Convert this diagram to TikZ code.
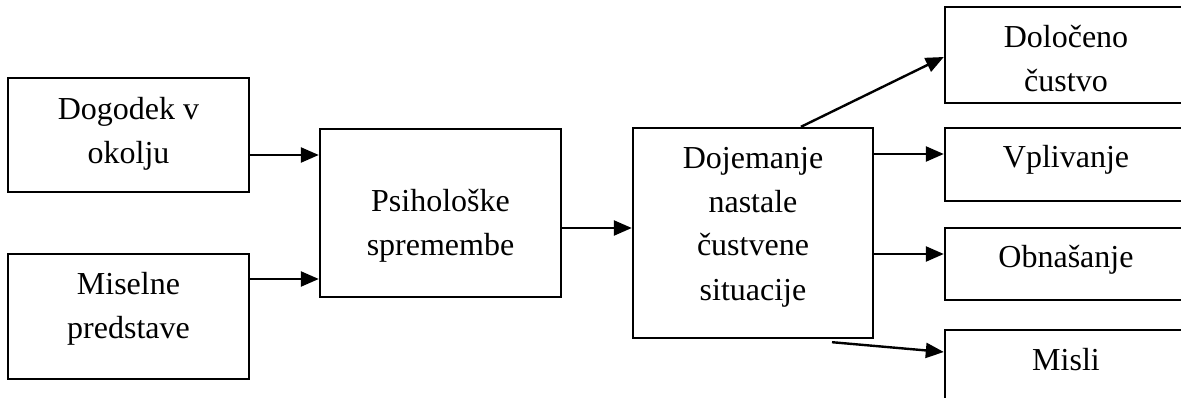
\documentclass[tikz,border=0pt]{standalone}
\usepackage{fontspec}
\setmainfont{Liberation Serif}
\usetikzlibrary{arrows.meta}
\begin{document}
\begin{tikzpicture}[x=1pt,y=-1pt,
  box/.style={draw, line width=2.4pt, inner sep=0pt, minimum width=#1},
  box/.default=241pt,
  % the base anchor of a multi-line label sits on its last line
  txt/.style={inner sep=0pt, align=center, anchor=base,
    font=\fontsize{32}{44}\selectfont},
  arr/.style={line width=2.4pt, -{Triangle[length=18pt,width=15pt]}}]
\useasboundingbox (0,0) rectangle (1181,398);
\clip (0,0) rectangle (1181,398);

% boxes
\node[box, minimum height=114pt] (A) at (128.5,135) {};
\node[box, minimum height=125pt] (B) at (128.5,316.5) {};
\node[box, minimum height=168pt] (C) at (440.5,213) {};
\node[box=240pt, minimum height=210pt] (D) at (753,233) {};
\node[box=242pt, minimum height=96pt] (E) at (1066,55) {};
\node[box=242pt, minimum height=73pt] (F) at (1066,164.5) {};
\node[box=242pt, minimum height=72pt] (G) at (1066,264) {};
\node[box=242pt, minimum height=86pt] (H) at (1066,373) {};

% labels
\node[txt] (tA) at (128.5,164) {Dogodek v\\okolju};
\node[txt] (tB) at (128.5,338) {Miselne\\predstave};
\node[txt] (tC) at (440.5,256) {Psihološke\\spremembe};
\node[txt] (tD) at (753,300) {Dojemanje\\nastale\\čustvene\\situacije};
\node[txt] (tE) at (1066,92) {Določeno\\čustvo};
\node[txt] (tF) at (1066,168) {Vplivanje};
\node[txt] (tG) at (1066,268) {Obnašanje};
\node[txt] (tH) at (1066,370) {Misli};

% connectors
\draw[arr] ([yshift=-20pt]A.east) -- ([yshift=-20pt]A.east -| C.west);
\draw[arr] ([yshift=37.5pt]B.east) -- ([yshift=37.5pt]B.east -| C.west);
\draw[arr] ([yshift=-15pt]C.east) -- ([yshift=-15pt]C.east -| D.west);
\draw[arr] ([xshift=48pt]D.north) -- ([yshift=-2pt]E.west);
\draw[arr] ([yshift=10.5pt]F.west -| D.east) -- ([yshift=10.5pt]F.west);
\draw[arr] ([yshift=10pt]G.west -| D.east) -- ([yshift=10pt]G.west);
\draw[arr] ([xshift=79pt,yshift=-3pt]D.south) -- ([yshift=21pt]H.west);
\end{tikzpicture}
\end{document}
